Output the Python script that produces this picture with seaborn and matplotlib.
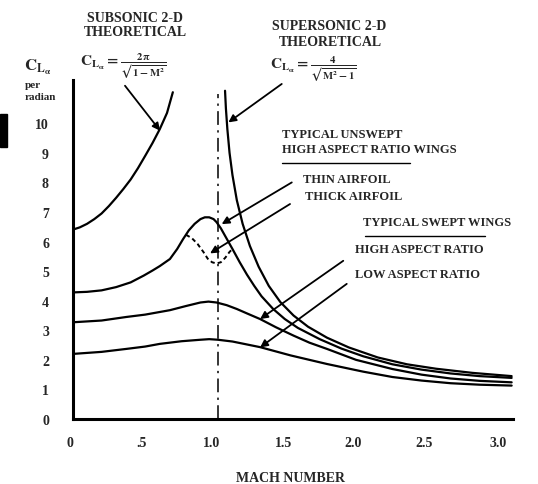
import matplotlib
matplotlib.use('Agg')
import matplotlib.pyplot as plt
import matplotlib.transforms as mtransforms
import seaborn as sns
from matplotlib.patches import Rectangle
from matplotlib.lines import Line2D

# ---------------- data ----------------
mach_subsonic = [0.0, 0.05, 0.1, 0.15, 0.2, 0.25, 0.3, 0.35, 0.4, 0.45, 0.5, 0.55,
                 0.6, 0.65, 0.69]
cla_subsonic = [6.4, 6.48, 6.6, 6.76, 6.95, 7.2, 7.48, 7.78, 8.1, 8.48, 8.9, 9.33,
                9.8, 10.35, 11.05]

mach_supersonic = [1.049, 1.055, 1.065, 1.08, 1.10, 1.13, 1.17, 1.22, 1.28, 1.35,
                   1.43, 1.52, 1.62, 1.75, 1.90, 2.10, 2.30, 2.50, 2.75, 3.02]
cla_supersonic = [11.1, 10.5, 9.8, 9.0, 8.25, 7.4, 6.6, 5.85, 5.15, 4.5,
                  3.95, 3.5, 3.12, 2.75, 2.42, 2.08, 1.85, 1.70, 1.56, 1.45]

mach_thin = [0.0, 0.1, 0.2, 0.3, 0.4, 0.49, 0.55, 0.6, 0.67, 0.72, 0.76, 0.8, 0.84,
             0.88, 0.91, 0.94, 0.97, 0.99, 1.02, 1.06, 1.10, 1.15, 1.20, 1.25, 1.30,
             1.38, 1.46, 1.55, 1.70, 1.85, 2.00, 2.20, 2.40, 2.60, 2.80, 3.02]
cla_thin = [4.28, 4.30, 4.35, 4.46, 4.62, 4.85, 5.02, 5.17, 5.41, 5.75, 6.08, 6.38, 6.6,
            6.76, 6.82, 6.82, 6.76, 6.66, 6.45, 6.10, 5.75, 5.30, 4.88, 4.50, 4.15,
            3.72, 3.38, 3.08, 2.70, 2.38, 2.12, 1.85, 1.67, 1.54, 1.45, 1.39]

mach_thick = [0.78, 0.82, 0.86, 0.90, 0.93, 0.96, 0.99, 1.02, 1.05, 1.08, 1.10]
cla_thick = [6.23, 6.12, 5.92, 5.65, 5.42, 5.30, 5.26, 5.30, 5.45, 5.65, 5.75]

mach_high_ar = [0.0, 0.2, 0.37, 0.5, 0.67, 0.78, 0.88, 0.935, 0.99, 1.06, 1.13, 1.2,
                1.29, 1.4, 1.52, 1.63, 1.75, 1.95, 2.2, 2.4, 2.6, 2.8, 3.02]
cla_high_ar = [3.27, 3.33, 3.45, 3.53, 3.68, 3.82, 3.94, 3.97, 3.94, 3.85, 3.72, 3.57,
               3.38, 3.10, 2.82, 2.58, 2.37, 2.00, 1.69, 1.50, 1.37, 1.29, 1.24]

mach_low_ar = [0.0, 0.2, 0.37, 0.5, 0.6, 0.75, 0.88, 0.94, 1.0, 1.1, 1.2, 1.29, 1.5,
               1.75, 2.0, 2.2, 2.4, 2.6, 2.8, 3.02]
cla_low_ar = [2.2, 2.27, 2.37, 2.45, 2.54, 2.63, 2.68, 2.70, 2.68, 2.62, 2.52, 2.43, 2.15,
              1.86, 1.60, 1.42, 1.30, 1.21, 1.16, 1.13]

mach_sonic = 1.0
x_ticks = [0, 0.5, 1.0, 1.5, 2.0, 2.5, 3.0]
x_ticklabels = ["0", ".5", "1.0", "1.5", "2.0", "2.5", "3.0"]
y_ticks = list(range(0, 12))
y_ticklabels = [str(v) for v in range(0, 11)] + [""]

# ---------------- style ----------------
sns.set_style('white')
plt.rcParams['font.family'] = ['Liberation Serif', 'DejaVu Serif']
plt.rcParams['font.weight'] = 'bold'
plt.rcParams['mathtext.fontset'] = 'stix'

W, H = 538, 485
fig = plt.figure(figsize=(W / 100, H / 100), dpi=100)
ax = fig.add_axes([72.5 / W, (H - 420) / H, 440.6 / W, 338.6 / H])
ax.set_xlim(0, 3.03)
ax.set_ylim(0, 11.45)

LW = 1.6
kw = dict(ax=ax, color='black', sort=False, estimator=None)
sns.lineplot(x=mach_subsonic, y=cla_subsonic, lw=LW, **kw)
sns.lineplot(x=mach_supersonic, y=cla_supersonic, lw=LW, **kw)
sns.lineplot(x=mach_thin, y=cla_thin, lw=LW, **kw)
sns.lineplot(x=mach_thick, y=cla_thick, lw=1.4, linestyle=(0, (2.2, 1.6)), **kw)
sns.lineplot(x=mach_high_ar, y=cla_high_ar, lw=LW, **kw)
sns.lineplot(x=mach_low_ar, y=cla_low_ar, lw=LW, **kw)

ax.vlines(mach_sonic, 0, 11.0, colors='black', lw=1.1, linestyles=[(0, (9, 3.5, 1.5, 3.5))])

# axes
for s in ['top', 'right']:
    ax.spines[s].set_visible(False)
for s in ['left', 'bottom']:
    ax.spines[s].set_linewidth(2.2)
    ax.spines[s].set_color('black')
ax.set_xticks(x_ticks)
ax.set_xticklabels(x_ticklabels)
ax.set_yticks(y_ticks)
ax.set_yticklabels(y_ticklabels)
ax.tick_params(axis='x', direction='out', length=4, width=1.6, pad=8, labelsize=10)
ax.tick_params(axis='y', direction='inout', length=8, width=1.6, pad=13, labelsize=10)
for lbl in ax.get_xticklabels() + ax.get_yticklabels():
    lbl.set_fontweight('bold')
ax.xaxis.get_major_ticks()[-1].tick1line.set_visible(False)
ax.set_xlabel('')
ax.set_ylabel('')

# the printed x labels sit slightly left of their ticks
label_shift_px = [-2.5, -4, -6.5, -7, -10, -12, -11]
for lbl, dx in zip(ax.get_xticklabels(), label_shift_px):
    lbl.set_transform(lbl.get_transform() +
                      mtransforms.ScaledTranslation(dx / 100, 0, fig.dpi_scale_trans))


def fx(px):
    return px / W


def fy(py):
    return 1 - py / H


def ftext(px, py, s, size=9.5, ha='left', va='center'):
    fig.text(fx(px), fy(py), s, fontsize=size, ha=ha, va=va, fontweight='bold')


# headings
ftext(135, 18, 'SUBSONIC 2-D', 10, ha='center')
ftext(135, 33, 'THEORETICAL', 10, ha='center')
ftext(329, 26, 'SUPERSONIC 2-D', 10, ha='center')
ftext(330, 42, 'THEORETICAL', 10, ha='center')

ftext(24, 67, r'$\mathbf{C_{L_{\alpha}}}$', 12)
ftext(25, 85, 'per', 8)
ftext(25, 98, 'radian', 8)

ftext(80, 66, r'$\mathbf{C_{L_{\alpha}}} = \frac{\mathbf{2\pi}}{\sqrt{\mathbf{1 - M^2}}}$', 11)
ftext(270, 69, r'$\mathbf{C_{L_{\alpha}}} = \frac{\mathbf{4}}{\sqrt{\mathbf{M^2 - 1}}}$', 11)

ftext(282, 135, 'TYPICAL UNSWEPT', 9)
ftext(282, 150, 'HIGH ASPECT RATIO WINGS', 9)
ftext(303, 180, 'THIN AIRFOIL', 9)
ftext(305, 197, 'THICK AIRFOIL', 9)
ftext(363, 223, 'TYPICAL SWEPT WINGS', 9)
ftext(355, 250, 'HIGH ASPECT RATIO', 9)
ftext(355, 275, 'LOW ASPECT RATIO', 9)
ftext(291, 479, 'MACH NUMBER', 10, ha='center')

# underlines
fig.add_artist(Line2D([fx(282), fx(410)], [fy(164), fy(164)], color='black', lw=1.0))
fig.add_artist(Line2D([fx(365), fx(485)], [fy(237), fy(237)], color='black', lw=1.0))

# scan artefact block at left edge
fig.add_artist(Rectangle((0, fy(148)), fx(7), (148 - 115) / H, color='black'))

# leader arrows (tail -> head in data coords)
arrows = [
    ((0.361, 11.27), (0.602, 9.75)),
    ((1.439, 11.33), (1.072, 10.03)),
    ((1.508, 8.00), (1.026, 6.59)),
    ((1.496, 7.27), (0.946, 5.60)),
    ((1.862, 5.35), (1.29, 3.38)),
    ((1.886, 4.57), (1.29, 2.42)),
]
for tail, head in arrows:
    ax.annotate('', xy=head, xytext=tail, annotation_clip=False,
                arrowprops=dict(arrowstyle='-|>', lw=1.3, color='black',
                                mutation_scale=11, shrinkA=0, shrinkB=0))

fig.savefig('out.png', dpi=100)
